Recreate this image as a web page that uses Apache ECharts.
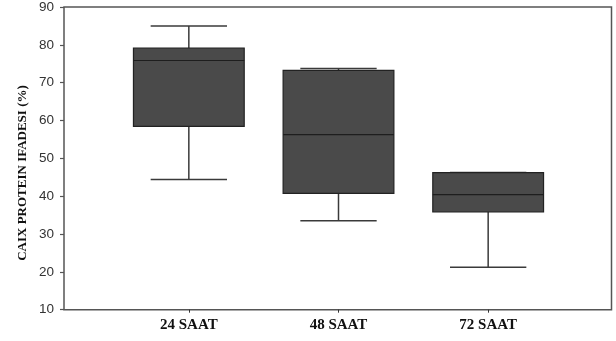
<!DOCTYPE html>
<html>
<head>
<meta charset="utf-8">
<script src="https://cdn.jsdelivr.net/npm/echarts@6/dist/echarts.min.js"></script>
<style>html,body{margin:0;padding:0;background:#fff;}#c{width:616px;height:341px;}</style>
</head>
<body>
<div id="c"></div>
<script>
var categories = ['24 SAAT', '48 SAAT', '72 SAAT'];
var mins    = [44.4, 33.5, 21.2];
var q1s     = [58.4, 40.7, 35.8];
var medians = [75.8, 56.2, 40.4];
var q3s     = [79.1, 73.2, 46.2];
var maxs    = [84.9, 73.7, 46.2];
var yTicks  = [10, 20, 30, 40, 50, 60, 70, 80, 90];
var yTitle  = 'CAIX PROTEIN IFADESI (%)';

var data = categories.map(function (c, i) {
  return [i, mins[i], q1s[i], medians[i], q3s[i], maxs[i]];
});

var chart = echarts.init(document.getElementById('c'));
chart.setOption({
  animation: false,
  backgroundColor: '#ffffff',
  grid: [
    { left: 64, right: 4.5, top: 6.7, bottom: 31.3, show: true, borderColor: '#555', borderWidth: 1.5, backgroundColor: 'transparent' },
    { left: 114, width: 449, top: 6.7, bottom: 31.3 }
  ],
  xAxis: [
    { type: 'value', gridIndex: 0, show: false, min: 0, max: 1 },
    {
      type: 'category', gridIndex: 1, data: categories,
      axisLine: { show: false },
      axisTick: { show: true, alignWithLabel: true, length: 3, lineStyle: { color: '#333', width: 1 } },
      axisLabel: { margin: 8, color: '#111', fontFamily: 'Liberation Serif', fontWeight: 'bold', fontSize: 15 }
    }
  ],
  yAxis: [
    {
      type: 'value', gridIndex: 0, min: yTicks[0], max: yTicks[yTicks.length - 1], interval: 10,
      axisLine: { show: false },
      axisTick: { show: true, length: 4, lineStyle: { color: '#555', width: 1.2 } },
      splitLine: { show: false },
      axisLabel: { margin: 10, color: '#333', fontFamily: 'Liberation Sans', fontSize: 13.5 }
    },
    { type: 'value', gridIndex: 1, min: yTicks[0], max: yTicks[yTicks.length - 1], show: false }
  ],
  graphic: [{
    type: 'text', x: 23, y: 173, rotation: Math.PI / 2,
    style: { text: yTitle, fill: '#111', font: 'bold 13px "Liberation Serif"', align: 'center', verticalAlign: 'middle' }
  }],
  series: [{
    type: 'custom', xAxisIndex: 1, yAxisIndex: 1, data: data,
    renderItem: function (params, api) {
      var idx = api.value(0);
      var lo = api.coord([idx, api.value(1)]);
      var q1 = api.coord([idx, api.value(2)]);
      var md = api.coord([idx, api.value(3)]);
      var q3 = api.coord([idx, api.value(4)]);
      var hi = api.coord([idx, api.value(5)]);
      var bw = api.size([1, 0])[0];
      var boxW = bw * 0.74, capW = bw * 0.51;
      var x = lo[0];
      var wl = { stroke: '#3a3a3a', lineWidth: 1.5 };
      return {
        type: 'group',
        children: [
          { type: 'line', shape: { x1: x, y1: q1[1], x2: x, y2: lo[1] }, style: wl },
          { type: 'line', shape: { x1: x - capW / 2, y1: lo[1], x2: x + capW / 2, y2: lo[1] }, style: wl },
          { type: 'line', shape: { x1: x, y1: q3[1], x2: x, y2: hi[1] }, style: wl },
          { type: 'line', shape: { x1: x - capW / 2, y1: hi[1], x2: x + capW / 2, y2: hi[1] }, style: wl },
          { type: 'rect', shape: { x: x - boxW / 2, y: q3[1], width: boxW, height: q1[1] - q3[1] }, style: { fill: '#4a4a4a', stroke: '#222', lineWidth: 1.2 } },
          { type: 'line', shape: { x1: x - boxW / 2, y1: md[1], x2: x + boxW / 2, y2: md[1] }, style: { stroke: '#1e1e1e', lineWidth: 1.2 } }
        ]
      };
    }
  }]
});
</script>
</body>
</html>
